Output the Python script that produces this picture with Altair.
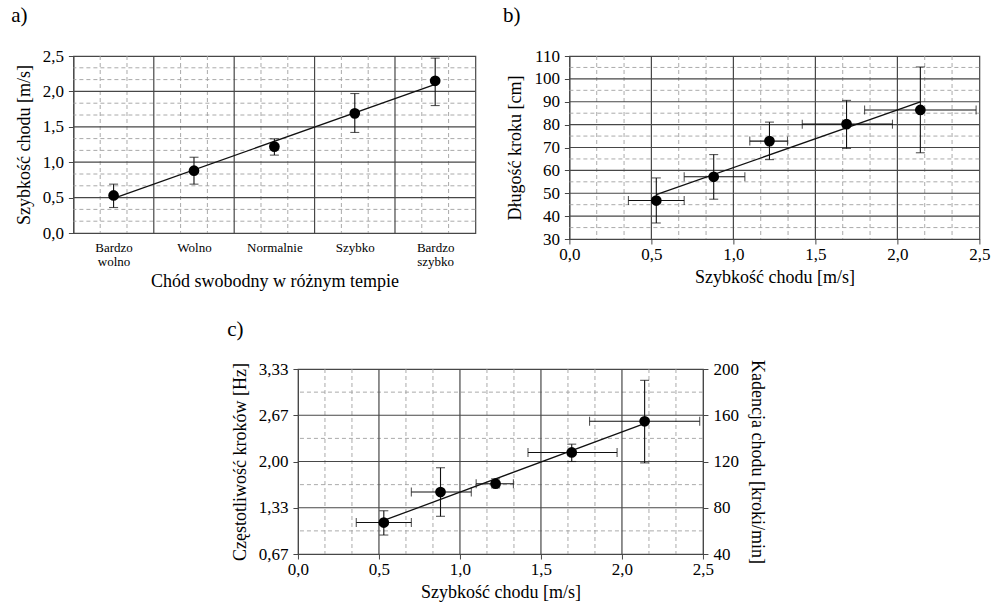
import altair as alt
import pandas as pd

FONT = "Liberation Serif"
MAJOR = "#474747"
MINOR = "#a0a0a0"
INK = "#111111"

# ---------------- data ----------------
# panel a
tempo = ["Bardzo wolno", "Wolno", "Normalnie", "Szybko", "Bardzo szybko"]
speed_mean_a = [0.53, 0.88, 1.22, 1.69, 2.15]
speed_lo_a = [0.36, 0.69, 1.10, 1.42, 1.80]
speed_hi_a = [0.69, 1.07, 1.33, 1.97, 2.47]
trend_a_x = [1, 5]
trend_a_y = [0.49, 2.10]

# panels b, c (same walking speeds)
speed = [0.53, 0.88, 1.22, 1.69, 2.14]
speed_lo = [0.36, 0.70, 1.10, 1.42, 1.80]
speed_hi = [0.70, 1.07, 1.33, 1.97, 2.48]

step_len = [46.8, 57.2, 72.8, 80.2, 86.4]
step_lo = [37.0, 47.4, 64.7, 69.6, 67.7]
step_hi = [56.7, 66.9, 81.1, 90.6, 105.2]
trend_b_x = [0.53, 2.14]
trend_b_y = [49.4, 89.9]

freq = [1.12, 1.56, 1.68, 2.13, 2.58]
freq_lo = [0.94, 1.21, 1.62, 2.00, 1.98]
freq_hi = [1.29, 1.91, 1.75, 2.25, 3.17]
trend_c_x = [0.53, 2.13]
trend_c_y = [1.15, 2.54]

# axis ticks and grid lines
speed_labels = [0, 0.5, 1.0, 1.5, 2.0, 2.5]
speed_major_grid = [0.5, 1.0, 1.5, 2.0]
speed_minor_grid = [k / 6 for k in range(16) if k % 3]
a_x_major_grid = [1.5, 2.5, 3.5, 4.5]
a_x_minor_grid = [0.5 + k / 3 for k in range(16) if k % 3]
b_y_labels = list(range(30, 111, 10))
b_y_major_grid = list(range(40, 101, 10))
b_y_minor_grid = list(range(35, 110, 10))
cadence_labels = [40, 80, 120, 160, 200]
cadence_major_grid = [80, 120, 160]
cadence_minor_grid = [60, 100, 140, 180]
hz_labels = [v / 60 for v in cadence_labels]

df_a = pd.DataFrame({"idx": list(range(1, len(tempo) + 1)), "tempo": tempo,
                     "v": speed_mean_a, "lo": speed_lo_a, "hi": speed_hi_a})
df_ta = pd.DataFrame({"x": trend_a_x, "y": trend_a_y})
df_b = pd.DataFrame({"s": speed, "slo": speed_lo, "shi": speed_hi,
                     "d": step_len, "dlo": step_lo, "dhi": step_hi})
df_tb = pd.DataFrame({"x": trend_b_x, "y": trend_b_y})
df_c = pd.DataFrame({"s": speed, "slo": speed_lo, "shi": speed_hi,
                     "f": freq, "flo": freq_lo, "fhi": freq_hi})
df_tc = pd.DataFrame({"x": trend_c_x, "y": trend_c_y})


def axis(values, title, orient, label_expr=None, **kw):
    args = dict(
        values=values, tickCount=len(values) + 2, title=title, orient=orient, grid=False,
        ticks=True, tickSize=5, tickColor=MAJOR,
        domain=True, domainColor=MAJOR,
        labelFont=FONT, labelFontSize=17, labelColor="black",
        labelOverlap=False, labelFlush=False, labelBound=False,
        labelPadding=5 if orient in ("left", "right") else 2,
        titleFont=FONT, titleFontSize=18, titleColor="black",
        titleFontWeight="normal", titlePadding=9,
    )
    if label_expr:
        args["labelExpr"] = label_expr
    args.update(kw)
    return alt.Axis(**args)


COMMA1 = "replace(format(datum.value, '.1f'), '.', ',')"
COMMA2 = "replace(format(datum.value, '.2f'), '.', ',')"


def rule(df, major):
    if major:
        return alt.Chart(df).mark_rule(color=MAJOR, strokeWidth=1.2)
    return alt.Chart(df).mark_rule(color=MINOR, strokeWidth=0.9, strokeDash=[4, 3])


def vgrid(values, major, scale, ax):
    return rule(pd.DataFrame({"g": values}), major).encode(
        x=alt.X("g:Q", scale=scale, axis=ax))


def hgrid(values, major, scale, ax):
    return rule(pd.DataFrame({"g": values}), major).encode(
        y=alt.Y("g:Q", scale=scale, axis=ax))


def panel_title(t, offset=21):
    return alt.TitleParams(t, anchor="start", font=FONT, fontSize=21,
                           fontWeight="normal", color="black", offset=offset, dx=-4)


def errbars(df, xf, yf, ylo, yhi, xlo=None, xhi=None):
    out = [
        alt.Chart(df).mark_rule(color=INK, strokeWidth=1.1).encode(x=xf, y=ylo, y2=yhi),
        alt.Chart(df).mark_tick(orient="horizontal", size=9, thickness=1.1, color=INK).encode(x=xf, y=ylo),
        alt.Chart(df).mark_tick(orient="horizontal", size=9, thickness=1.1, color=INK).encode(x=xf, y=yhi),
    ]
    if xlo:
        out += [
            alt.Chart(df).mark_rule(color=INK, strokeWidth=1.1).encode(x=xlo, x2=xhi, y=yf),
            alt.Chart(df).mark_tick(orient="vertical", size=9, thickness=1.1, color=INK).encode(x=xlo, y=yf),
            alt.Chart(df).mark_tick(orient="vertical", size=9, thickness=1.1, color=INK).encode(x=xhi, y=yf),
        ]
    return out


speed_scale = alt.Scale(domain=[0, 2.5], nice=False, zero=False)
speed_axis = axis(speed_labels, "Szybkość chodu [m/s]", "bottom", COMMA1, titlePadding=6)

# ---------------- panel a ----------------
parts = []
for i, name in enumerate(tempo):
    w = name.split(" ")
    lab = "['" + "', '".join(w) + "']" if len(w) > 1 else f"'{name}'"
    parts.append(f"datum.value == {i + 1} ? {lab} : ")
a_label = "".join(parts) + "''"

xa_scale = alt.Scale(domain=[0.5, 5.5], nice=False, zero=False)
ya_scale = alt.Scale(domain=[0, 2.5], nice=False, zero=False)
a_x_axis = axis(list(range(1, 6)), "Chód swobodny w różnym tempie", "bottom", a_label,
                ticks=False, labelFontSize=13, labelBaseline="middle",
                labelPadding=14, labelLineHeight=14, titlePadding=4)
a_y_axis = axis(speed_labels, "Szybkość chodu [m/s]", "left", COMMA1)

a_line = alt.Chart(df_ta).mark_line(color=INK, strokeWidth=1.3).encode(
    x=alt.X("x:Q", scale=xa_scale, axis=a_x_axis),
    y=alt.Y("y:Q", scale=ya_scale, axis=a_y_axis))
a_pts = alt.Chart(df_a).mark_circle(size=115, color="black", opacity=1).encode(x="idx:Q", y="v:Q")

chart_a = alt.layer(
    vgrid(a_x_minor_grid, False, xa_scale, a_x_axis),
    hgrid(speed_minor_grid, False, ya_scale, a_y_axis),
    vgrid(a_x_major_grid, True, xa_scale, a_x_axis),
    hgrid(speed_major_grid, True, ya_scale, a_y_axis),
    a_line, *errbars(df_a, "idx:Q", "v:Q", "lo:Q", "hi:Q"), a_pts,
).properties(width=402, height=177, title=panel_title("a)"))

# ---------------- panel b ----------------
yb_scale = alt.Scale(domain=[30, 110], nice=False, zero=False)
b_y_axis = axis(b_y_labels, "Długość kroku [cm]", "left")
b_line = alt.Chart(df_tb).mark_line(color=INK, strokeWidth=1.3).encode(
    x=alt.X("x:Q", scale=speed_scale, axis=speed_axis),
    y=alt.Y("y:Q", scale=yb_scale, axis=b_y_axis))
b_pts = alt.Chart(df_b).mark_circle(size=115, color="black", opacity=1).encode(x="s:Q", y="d:Q")

chart_b = alt.layer(
    vgrid(speed_minor_grid, False, speed_scale, speed_axis),
    hgrid(b_y_minor_grid, False, yb_scale, b_y_axis),
    vgrid(speed_major_grid, True, speed_scale, speed_axis),
    hgrid(b_y_major_grid, True, yb_scale, b_y_axis),
    b_line, *errbars(df_b, "s:Q", "d:Q", "dlo:Q", "dhi:Q", "slo:Q", "shi:Q"), b_pts,
).properties(width=410, height=183, title=panel_title("b)"))

# ---------------- panel c ----------------
cad_scale = alt.Scale(domain=[40, 200], nice=False, zero=False)
yc_scale = alt.Scale(domain=[40 / 60, 200 / 60], nice=False, zero=False)
cad_axis = axis(cadence_labels, "Kadencja chodu [kroki/min]", "right")
hz_axis = axis(hz_labels, "Częstotliwość kroków [Hz]", "left", COMMA2)

c_grid = alt.layer(
    vgrid(speed_minor_grid, False, speed_scale, speed_axis),
    hgrid(cadence_minor_grid, False, cad_scale, cad_axis),
    vgrid(speed_major_grid, True, speed_scale, speed_axis),
    hgrid(cadence_major_grid, True, cad_scale, cad_axis),
)
c_line = alt.Chart(df_tc).mark_line(color=INK, strokeWidth=1.3).encode(
    x=alt.X("x:Q", scale=speed_scale, axis=speed_axis),
    y=alt.Y("y:Q", scale=yc_scale, axis=hz_axis))
c_pts = alt.Chart(df_c).mark_circle(size=115, color="black", opacity=1).encode(x="s:Q", y="f:Q")
c_main = alt.layer(c_line, *errbars(df_c, "s:Q", "f:Q", "flo:Q", "fhi:Q", "slo:Q", "shi:Q"), c_pts)

chart_c = alt.layer(c_grid, c_main).resolve_scale(y="independent").properties(
    width=405, height=185, title=panel_title("c)", offset=20))

# ---------------- layout ----------------
top = alt.hconcat(chart_a, chart_b, spacing=24)
chart = alt.vconcat(top, chart_c, spacing=26, center=True).properties(
    padding={"left": 10, "top": 4, "right": 2, "bottom": 0}
).configure(font=FONT).configure_view(stroke=MAJOR, strokeWidth=1.2)

chart.save("out.html", embed_options={"renderer": "svg", "actions": False})
